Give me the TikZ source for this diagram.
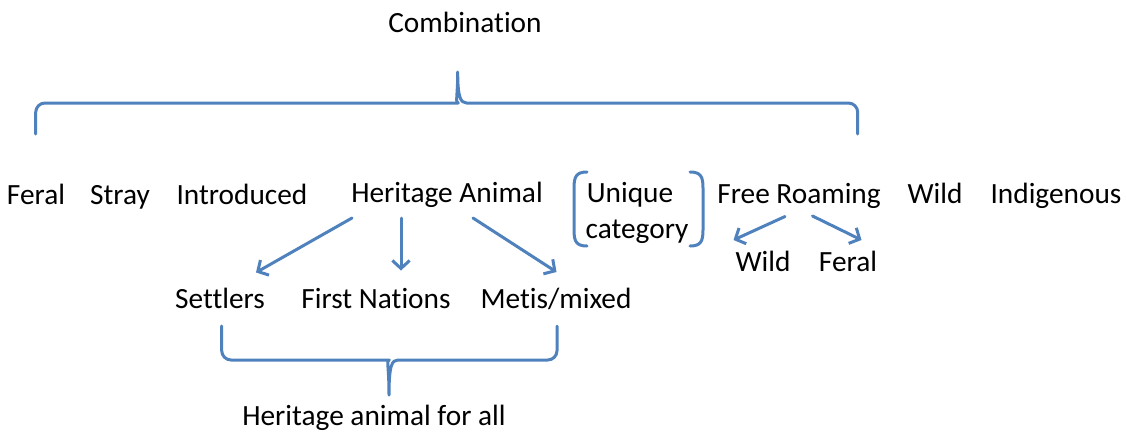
\documentclass[tikz,border=0pt]{standalone}
\usepackage{fontspec}
\setmainfont[Ligatures=NoCommon]{Carlito}
\usetikzlibrary{arrows.meta}
\definecolor{lineblue}{HTML}{4F81BD}
\begin{document}
\begin{tikzpicture}[x=0.75pt,y=-0.75pt,
  lbl/.style={anchor=base, inner sep=0pt, font=\fontsize{22}{26}\selectfont},
  line/.style={draw=lineblue, line width=2.25pt, line cap=round, line join=round},
  arr/.style={line, -{Straight Barb[length=6pt,width=13pt,line width=2.25pt]}}]
\useasboundingbox (0,0) rectangle (1127,433);

% top row of terms
\node[lbl] (comb)   at (465,32)  {Combination};
\node[lbl] (feral)  at (36,204)  {Feral};
\node[lbl] (stray)  at (120,204) {Stray};
\node[lbl] (intro)  at (242,204) {Introduced};
\node[lbl] (herit)  at (447,202.5) {Heritage Animal};
\node[lbl] (uniq)   at (630,202.5) {Unique};
\node[lbl] (categ)  at (637,238) {category};
\node[lbl] (free)   at (799,203) {Free Roaming};
\node[lbl] (wild)   at (935,203) {Wild};
\node[lbl] (indig)  at (1056,203) {Indigenous};

% second row
\node[lbl] (wild2)  at (763,271.5) {Wild};
\node[lbl] (feral2) at (848,271.5) {Feral};
\node[lbl] (settl)  at (220,308) {Settlers};
\node[lbl] (first)  at (376,308) {First Nations};
\node[lbl] (metis)  at (556,308) {Metis/mixed};
\node[lbl] (all)    at (374,425) {Heritage animal for all};

% arrow end points
\coordinate (hA) at (352,218);  \coordinate (sA) at (256,272.5);
\coordinate (hB) at (401,218);  \coordinate (fB) at (401,270.5);
\coordinate (hC) at (473,218);  \coordinate (mC) at (556.5,272);
\coordinate (rA) at (785,216.5); \coordinate (wA) at (733.5,240);
\coordinate (rB) at (812.5,216); \coordinate (eB) at (861.5,240);

\draw[arr] (hA) -- (sA);
\draw[arr] (hB) -- (fB);
\draw[arr] (hC) -- (mC);
\draw[arr] (rA) -- (wA);
\draw[arr] (rB) -- (eB);

% brace over the top row
\draw[line] (35.7,134) [rounded corners=7pt] -- (35.7,103) -- (449,103) [rounded corners=0pt]
  .. controls (455,103) and (457.7,97) .. (457.7,72)
  .. controls (457.7,97) and (460.5,103) .. (466.5,103)
  [rounded corners=7pt] -- (857.7,103) -- (857.7,134);

% brace under the heritage groups
\draw[line] (221.7,326) [rounded corners=7pt] -- (221.7,360) -- (380,360) [rounded corners=0pt]
  .. controls (386,360) and (389,365) .. (389,395)
  .. controls (389,365) and (392,360) .. (398,360)
  [rounded corners=7pt] -- (557,360) -- (557,326);

% parentheses round "Unique category"
\draw[line] (587,172) .. controls (576,172) and (574,177) .. (574,188) -- (574,230)
  .. controls (574,241) and (576,246) .. (587,246);
\draw[line] (690,172) .. controls (701,172) and (703,177) .. (703,188) -- (703,230)
  .. controls (703,241) and (701,246) .. (690,246);
\end{tikzpicture}
\end{document}
